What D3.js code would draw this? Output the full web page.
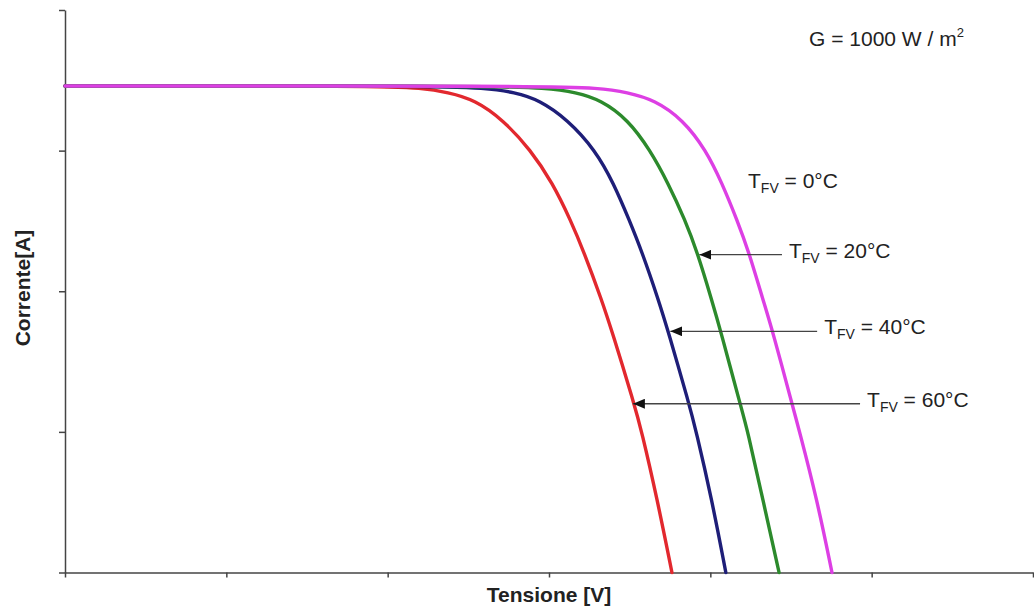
<!DOCTYPE html>
<html>
<head>
<meta charset="utf-8">
<script src="https://cdn.jsdelivr.net/npm/d3@7"></script>
<style>
  body { margin: 0; background: #fff; }
  svg { display: block; }
  .axis path, .axis line { stroke: #444; stroke-width: 1.5; }
  text { font-family: "Liberation Sans", Arial, sans-serif; fill: #222; }
</style>
</head>
<body>
<svg width="1034" height="609"></svg>
<script>
// I-V curves of a PV module at G = 1000 W/m2, four module temperatures
var currentA = [6.92, 6.92, 6.89, 6.83, 6.72, 6.44, 6.01, 5.54, 5.01, 4.55, 3.88, 3.42, 2.40, 2.03, 1.03, 0];

var voltsT0  = [0, 14.72, 16.58, 17.42, 18.28, 19.15, 19.86, 20.36, 20.83, 21.20, 21.63, 21.94, 22.53, 22.75, 23.31, 23.77];
var voltsT20 = [0, 13.17, 14.91, 15.84, 16.61, 17.45, 18.13, 18.69, 19.22, 19.60, 20.04, 20.33, 20.92, 21.15, 21.63, 22.13];
var voltsT40 = [0, 11.44, 12.99, 13.95, 14.70, 15.58, 16.43, 17.00, 17.49, 17.89, 18.39, 18.70, 19.34, 19.55, 20.05, 20.48];
var voltsT60 = [0, 9.79, 11.03, 11.87, 12.71, 13.57, 14.43, 15.11, 15.67, 16.09, 16.63, 16.96, 17.64, 17.86, 18.36, 18.81];

var temps = ["0", "20", "40", "60"];
var colors = ["#dd3fe4", "#2c8a2c", "#1e1e78", "#e2282e"];

// arrows: current, tip voltage, start voltage (no arrow for 0°C)
var arrowI    = [null, 4.52, 3.43, 2.40];
var arrowTipV = [null, 19.66, 18.76, 17.60];
var arrowFromV = [null, 22.22, 23.31, 24.64];

var xTicks = [0, 5, 10, 15, 20, 25, 30];
var yTicks = [0, 2, 4, 6, 8];

var svg = d3.select("svg");

var x = d3.scaleLinear().domain([0, 30]).range([65, 1033]);
var y = d3.scaleLinear().domain([0, 8]).range([572.5, 10]);

svg.append("g")
    .attr("class", "axis")
    .attr("transform", "translate(0," + y(0) + ")")
    .call(d3.axisBottom(x).tickValues(xTicks).tickFormat("").tickSize(5).tickSizeOuter(0));

svg.append("g")
    .attr("class", "axis")
    .attr("transform", "translate(" + x(0) + ",0)")
    .call(d3.axisLeft(y).tickValues(yTicks).tickFormat("").tickSize(6).tickSizeOuter(0));

var series = [voltsT0, voltsT20, voltsT40, voltsT60];

var line = d3.line()
    .x(function(d) { return x(d[0]); })
    .y(function(d) { return y(d[1]); })
    .curve(d3.curveBasis);

// draw hottest first so cooler curves sit on top like the original
svg.append("g")
  .selectAll("path")
    .data(series.map(function(v, i) { return { v: v, i: i }; }).reverse())
  .enter().append("path")
    .attr("fill", "none")
    .attr("stroke", function(d) { return colors[d.i]; })
    .attr("stroke-width", 3.4)
    .attr("stroke-linecap", "round")
    .attr("d", function(d) {
      return line(d.v.map(function(vv, k) { return [vv, currentA[k]]; }));
    });

svg.append("defs").append("marker")
    .attr("id", "head")
    .attr("markerUnits", "userSpaceOnUse")
    .attr("viewBox", "0 0 12 10")
    .attr("refX", 12).attr("refY", 5)
    .attr("markerWidth", 12).attr("markerHeight", 10)
    .attr("orient", "auto")
  .append("path")
    .attr("d", "M0,0L12,5L0,10Z")
    .attr("fill", "#111");

temps.forEach(function(t, i) {
  var lx, ly;
  if (arrowI[i] !== null) {
    svg.append("line")
        .attr("x1", x(arrowFromV[i])).attr("y1", y(arrowI[i]))
        .attr("x2", x(arrowTipV[i])).attr("y2", y(arrowI[i]))
        .attr("stroke", "#444")
        .attr("stroke-width", 1.3)
        .attr("marker-end", "url(#head)");
    lx = x(arrowFromV[i]) + 7;
    ly = y(arrowI[i]) + 3;
  } else {
    lx = 748; ly = 188;
  }
  var lab = svg.append("text")
      .attr("x", lx).attr("y", ly)
      .style("font-size", "21px");
  lab.append("tspan").text("T");
  lab.append("tspan").attr("dy", 5).style("font-size", "14px").text("FV");
  lab.append("tspan").attr("dy", -5).text(" = " + t + "°C");
});

var g = svg.append("text")
    .attr("x", 809).attr("y", 46)
    .style("font-size", "21px");
g.append("tspan").text("G = 1000 W / m");
g.append("tspan").attr("dy", -9).style("font-size", "13px").text("2");

svg.append("text")
    .attr("x", 549).attr("y", 602)
    .attr("text-anchor", "middle")
    .style("font-size", "21px")
    .style("font-weight", "bold")
    .text("Tensione [V]");

svg.append("text")
    .attr("transform", "translate(30,288) rotate(-90)")
    .attr("text-anchor", "middle")
    .style("font-size", "21px")
    .style("font-weight", "bold")
    .text("Corrente[A]");
</script>
</body>
</html>
